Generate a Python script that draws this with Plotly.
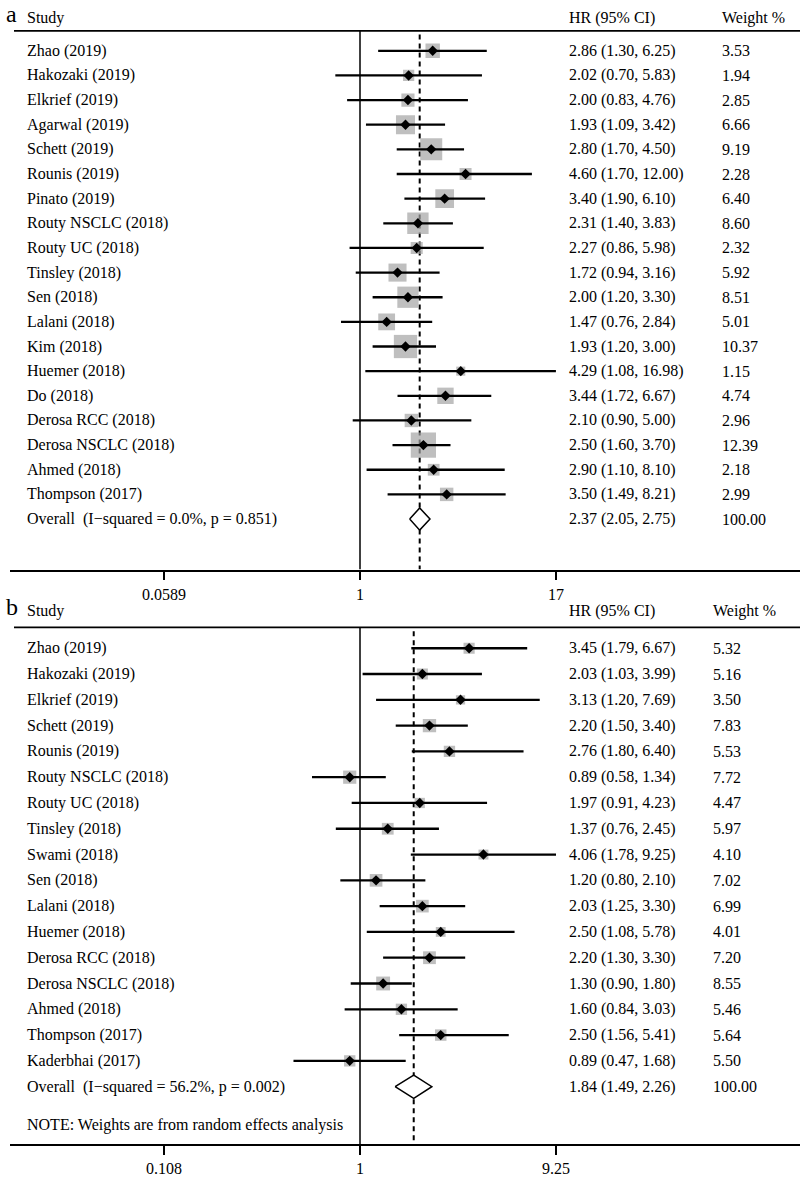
import numpy as np
import plotly.graph_objects as go

# ---- panel a data ----
studies_a = ["Zhao (2019)", "Hakozaki (2019)", "Elkrief (2019)", "Agarwal (2019)", "Schett (2019)",
             "Rounis (2019)", "Pinato (2019)", "Routy NSCLC (2018)", "Routy UC (2018)", "Tinsley (2018)",
             "Sen (2018)", "Lalani (2018)", "Kim (2018)", "Huemer (2018)", "Do (2018)",
             "Derosa RCC (2018)", "Derosa NSCLC (2018)", "Ahmed (2018)", "Thompson (2017)"]
hr_a = [2.86, 2.02, 2.00, 1.93, 2.80, 4.60, 3.40, 2.31, 2.27, 1.72, 2.00, 1.47, 1.93, 4.29, 3.44, 2.10, 2.50, 2.90, 3.50]
lo_a = [1.30, 0.70, 0.83, 1.09, 1.70, 1.70, 1.90, 1.40, 0.86, 0.94, 1.20, 0.76, 1.20, 1.08, 1.72, 0.90, 1.60, 1.10, 1.49]
hi_a = [6.25, 5.83, 4.76, 3.42, 4.50, 12.00, 6.10, 3.83, 5.98, 3.16, 3.30, 2.84, 3.00, 16.98, 6.67, 5.00, 3.70, 8.10, 8.21]
wt_a = [3.53, 1.94, 2.85, 6.66, 9.19, 2.28, 6.40, 8.60, 2.32, 5.92, 8.51, 5.01, 10.37, 1.15, 4.74, 2.96, 12.39, 2.18, 2.99]
overall_a = [2.37, 2.05, 2.75]
overall_label_a = "Overall  (I\u2212squared = 0.0%, p = 0.851)"
ticks_a = [0.0589, 1, 17]
tick_text_a = ["0.0589", "1", "17"]

# ---- panel b data ----
studies_b = ["Zhao (2019)", "Hakozaki (2019)", "Elkrief (2019)", "Schett (2019)", "Rounis (2019)",
             "Routy NSCLC (2018)", "Routy UC (2018)", "Tinsley (2018)", "Swami (2018)", "Sen (2018)",
             "Lalani (2018)", "Huemer (2018)", "Derosa RCC (2018)", "Derosa NSCLC (2018)", "Ahmed (2018)",
             "Thompson (2017)", "Kaderbhai (2017)"]
hr_b = [3.45, 2.03, 3.13, 2.20, 2.76, 0.89, 1.97, 1.37, 4.06, 1.20, 2.03, 2.50, 2.20, 1.30, 1.60, 2.50, 0.89]
lo_b = [1.79, 1.03, 1.20, 1.50, 1.80, 0.58, 0.91, 0.76, 1.78, 0.80, 1.25, 1.08, 1.30, 0.90, 0.84, 1.56, 0.47]
hi_b = [6.67, 3.99, 7.69, 3.40, 6.40, 1.34, 4.23, 2.45, 9.25, 2.10, 3.30, 5.78, 3.30, 1.80, 3.03, 5.41, 1.68]
wt_b = [5.32, 5.16, 3.50, 7.83, 5.53, 7.72, 4.47, 5.97, 4.10, 7.02, 6.99, 4.01, 7.20, 8.55, 5.46, 5.64, 5.50]
overall_b = [1.84, 1.49, 2.26]
overall_label_b = "Overall  (I\u2212squared = 56.2%, p = 0.002)"
ticks_b = [0.108, 1, 9.25]
tick_text_b = ["0.108", "1", "9.25"]
note_b = "NOTE: Weights are from random effects analysis"

W, H = 800, 1177
FONT = "Liberation Serif"
FS = 16

fig = go.Figure()


def add_panel(fig, n, studies, hr, lo, hi, wt, overall, overall_label, ticks, tick_text,
              letter, head_y, line_y, row0_y, row_h, axis_y, box_k, weight_x, note=None):
    xa = "x" if n == 1 else "x2"
    ya = "y" if n == 1 else "y2"
    rows = list(range(len(studies)))
    orow = len(studies)
    ytop = (line_y - row0_y) / row_h
    ybot = (axis_y - row0_y) / row_h

    # x scale: "1" at pixel 360, outer tick 196 px away, axis starting at pixel 10
    k = 196 / np.log(ticks[-1])
    xl = (10 - 360) / k / np.log(10)
    xr = (800 - 360) / k / np.log(10)

    # reference line at 1 and dashed overall line
    fig.add_trace(go.Scatter(x=[1, 1], y=[ytop, ybot], mode="lines", xaxis=xa, yaxis=ya,
                             line=dict(color="black", width=1.5), hoverinfo="skip"))
    fig.add_trace(go.Scatter(x=[overall[0]] * 2, y=[ytop + 0.15, ybot], mode="lines", xaxis=xa, yaxis=ya,
                             line=dict(color="black", width=2, dash="5px,4px"), hoverinfo="skip"))

    # weight boxes
    fig.add_trace(go.Scatter(x=hr, y=rows, mode="markers", xaxis=xa, yaxis=ya,
                             marker=dict(symbol="square", color="#a4a4a4",
                                         size=[box_k[0] + box_k[1] * np.sqrt(w) for w in wt],
                                         line=dict(width=0)), hoverinfo="skip"))
    # CI lines
    cx, cy = [], []
    for r, l, h in zip(rows, lo, hi):
        cx += [l, h, None]
        cy += [r, r, None]
    fig.add_trace(go.Scatter(x=cx, y=cy, mode="lines", xaxis=xa, yaxis=ya,
                             line=dict(color="black", width=2.3), hoverinfo="skip"))
    # point estimates
    fig.add_trace(go.Scatter(x=hr, y=rows, mode="markers", xaxis=xa, yaxis=ya,
                             marker=dict(symbol="diamond", color="black", size=8), hoverinfo="skip"))
    # overall diamond
    dh = 0.45
    fig.add_trace(go.Scatter(x=[overall[1], overall[0], overall[2], overall[0], overall[1]],
                             y=[orow, orow - dh, orow, orow + dh, orow],
                             mode="lines", fill="toself", fillcolor="white", xaxis=xa, yaxis=ya,
                             line=dict(color="black", width=1.5), hoverinfo="skip"))

    # text columns
    ann = []
    def txt(x, y, s, yref=ya, size=FS):
        ann.append(dict(x=x, y=y, xref="paper", yref=yref, text=s, showarrow=False,
                        xanchor="left", yanchor="middle", font=dict(family=FONT, size=size, color="black")))
    for r, s, h_, l, u, w in zip(rows, studies, hr, lo, hi, wt):
        txt(25 / W, r, s)
        txt(567 / W, r, f"{h_:.2f} ({l:.2f}, {u:.2f})")
        txt(weight_x / W, r, f"{w:.2f}")
    txt(25 / W, orow, overall_label)
    txt(567 / W, orow, f"{overall[0]:.2f} ({overall[1]:.2f}, {overall[2]:.2f})")
    txt(weight_x / W, orow, "100.00")
    if note:
        txt(25 / W, orow + 1.5, note)
    # header
    hy = 1 - head_y / H
    txt(25 / W, hy, "Study", yref="paper")
    txt(567 / W, hy, "HR (95% CI)", yref="paper")
    txt(weight_x / W, hy, "Weight %", yref="paper")
    ann.append(dict(x=4 / W, y=1 - (head_y - 4) / H, xref="paper", yref="paper", text=letter,
                    showarrow=False, xanchor="left", yanchor="middle",
                    font=dict(family=FONT, size=24, color="black")))
    for a in ann:
        fig.add_annotation(**a)

    # header rule
    fig.add_shape(type="line", xref="paper", yref="paper", x0=14 / W, x1=1,
                  y0=1 - line_y / H, y1=1 - line_y / H, line=dict(color="black", width=1.8))

    xax = dict(type="log", range=[xl, xr], domain=[10 / W, 1], anchor=ya,
               showgrid=False, zeroline=False, showline=True, linecolor="black", linewidth=1.8,
               ticks="outside", ticklen=9, tickwidth=1.5, tickcolor="black",
               tickvals=ticks, ticktext=tick_text,
               tickfont=dict(family=FONT, size=FS, color="black"))
    yax = dict(range=[ybot, ytop], domain=[1 - axis_y / H, 1 - line_y / H], anchor=xa,
               showgrid=False, zeroline=False, showline=False, showticklabels=False, ticks="")
    return xax, yax


xa1, ya1 = add_panel(fig, 1, studies_a, hr_a, lo_a, hi_a, wt_a, overall_a, overall_label_a,
                     ticks_a, tick_text_a, "a", head_y=18, line_y=31, row0_y=51, row_h=24.75,
                     axis_y=572, box_k=(2.0, 6.6), weight_x=720)
xa2, ya2 = add_panel(fig, 2, studies_b, hr_b, lo_b, hi_b, wt_b, overall_b, overall_label_b,
                     ticks_b, tick_text_b, "b", head_y=614, line_y=630, row0_y=651, row_h=25.9,
                     axis_y=1149, box_k=(1.0, 4.4), weight_x=711, note=note_b)

fig.update_layout(
    width=W, height=H, margin=dict(l=0, r=0, t=0, b=0),
    paper_bgcolor="white", plot_bgcolor="white", showlegend=False,
    xaxis=xa1, yaxis=ya1, xaxis2=xa2, yaxis2=ya2,
)

# drop the default page margin so the figure sits at the window's corner
fig.write_html("out.html", config={"displayModeBar": False},
               post_script="document.body.style.margin='0';")
